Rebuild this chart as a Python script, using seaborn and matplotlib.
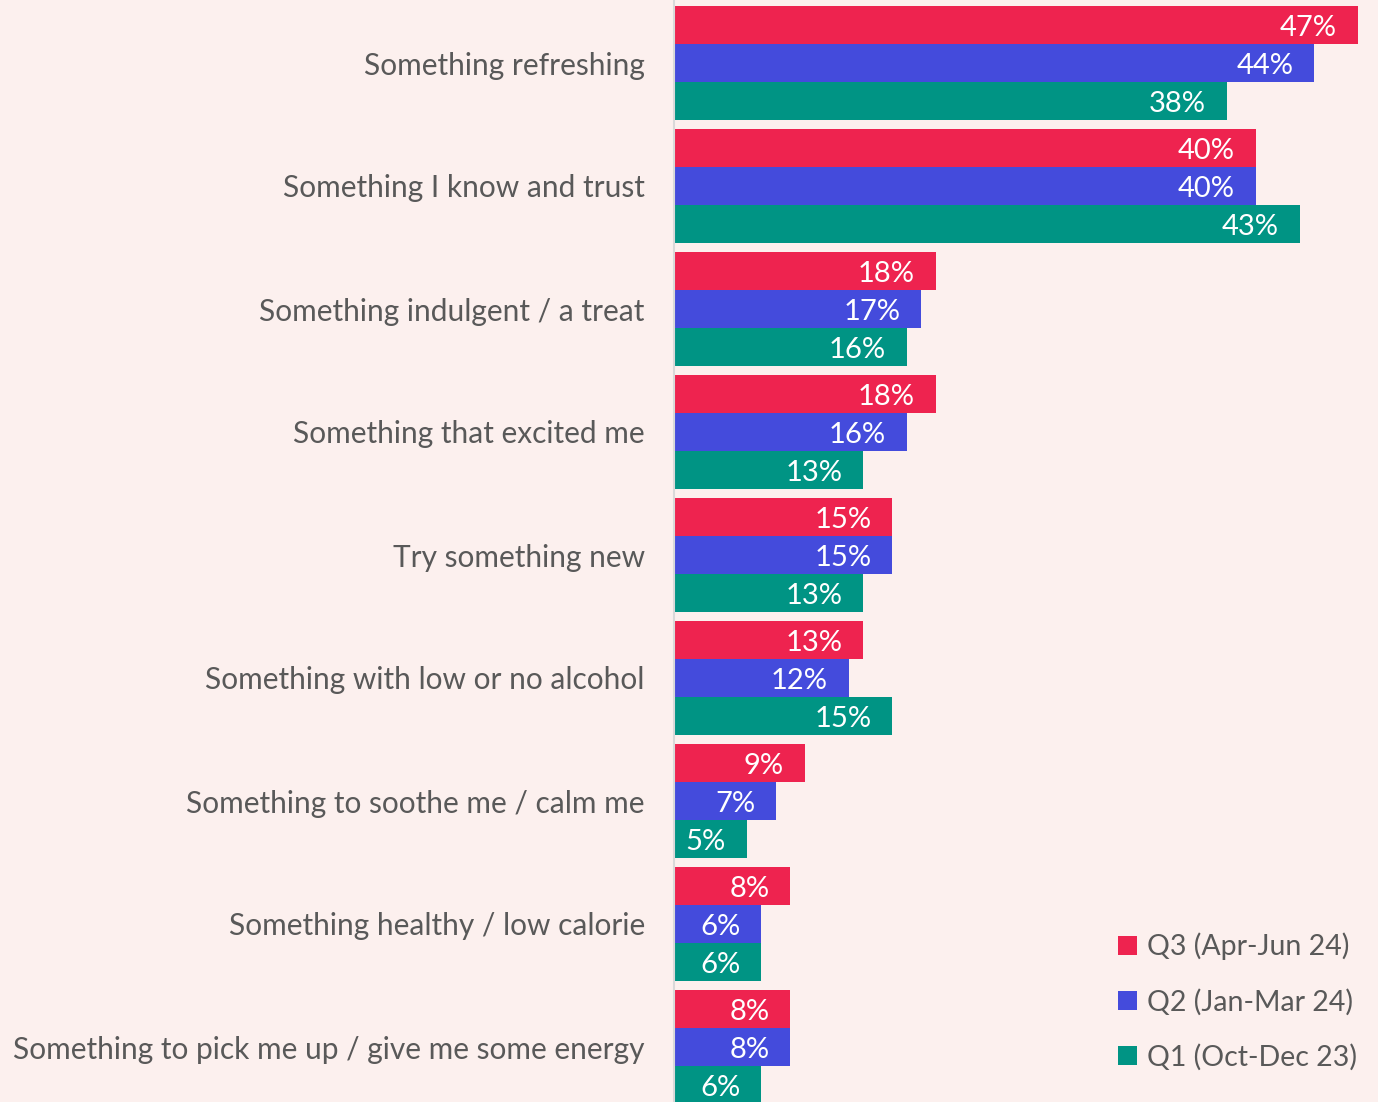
import matplotlib
matplotlib.use("Agg")
import matplotlib.pyplot as plt
import seaborn as sns
import pandas as pd

categories = [
    "Something refreshing",
    "Something I know and trust",
    "Something indulgent / a treat",
    "Something that excited me",
    "Try something new",
    "Something with low or no alcohol",
    "Something to soothe me / calm me",
    "Something healthy / low calorie",
    "Something to pick me up / give me some energy",
]
series = ["Q3 (Apr-Jun 24)", "Q2 (Jan-Mar 24)", "Q1 (Oct-Dec 23)"]
q3 = [47, 40, 18, 18, 15, 13, 9, 8, 8]
q2 = [44, 40, 17, 16, 15, 12, 7, 6, 8]
q1 = [38, 43, 16, 13, 13, 15, 5, 6, 6]
colors = ["#EE234F", "#444BDC", "#009484"]

rows = []
for s, vals in zip(series, [q3, q2, q1]):
    for c, v in zip(categories, vals):
        rows.append({"cat": c, "series": s, "value": v})
df = pd.DataFrame(rows)

bg = "#FCF0EE"
sns.set_theme(style="white")
plt.rcParams["font.family"] = ["Lato", "DejaVu Sans"]

fig = plt.figure(figsize=(13.78, 11.02), dpi=100, facecolor=bg)
ax = fig.add_axes([674 / 1378, 0, 1 - 674 / 1378, 1])
ax.set_facecolor(bg)

sns.barplot(data=df, y="cat", x="value", hue="series", order=categories,
            hue_order=series, palette=colors, orient="h", width=114 / 123,
            saturation=1, ax=ax, legend=True, linewidth=0, edgecolor="none")

for cont in ax.containers:
    labels = [f"{int(round(w))}%" for w in cont.datavalues]
    ax.bar_label(cont, labels=labels, padding=-15, color="white",
                 fontsize=21, label_type="edge")
for t in ax.texts:
    t.set_ha("right")
    t.xyann = (-15, -2.2)

ax.set_xlim(0, 704 / 14.55)
ax.set_ylim((1102 - 63) / 123, -63 / 123)
ax.set_xlabel("")
ax.set_ylabel("")
ax.set_xticks([])
ax.tick_params(axis="y", length=0, pad=21, labelsize=21.5, labelcolor="#595959")
for s in ["top", "right", "bottom"]:
    ax.spines[s].set_visible(False)
ax.spines["left"].set_color("#D9D9D9")
ax.spines["left"].set_linewidth(1.5)

leg = ax.legend(loc="lower right", bbox_to_anchor=(1.006, 0.005), frameon=False,
                fontsize=20.5, labelcolor="#595959", handlelength=0.65,
                handleheight=0.65, handletextpad=0.35, labelspacing=1.0)

fig.savefig("out.png", dpi=100, facecolor=bg)
